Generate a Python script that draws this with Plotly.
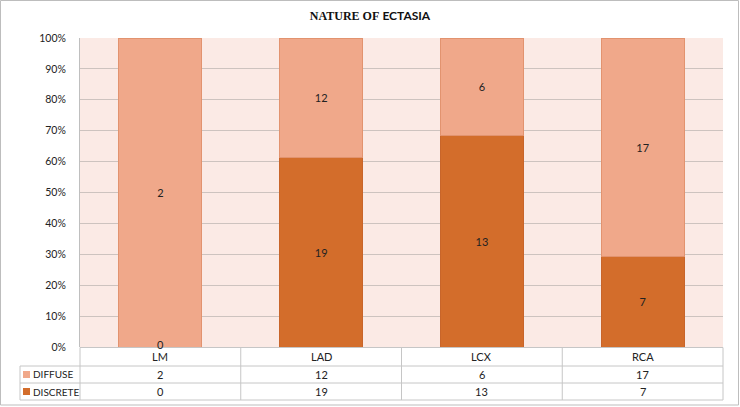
import plotly.graph_objects as go

categories = ['LM', 'LAD', 'LCX', 'RCA']
diffuse = [2, 12, 6, 17]
discrete = [0, 19, 13, 7]
series_names = ['DIFFUSE', 'DISCRETE']
tick_vals = [0, 10, 20, 30, 40, 50, 60, 70, 80, 90, 100]
tick_text = [f'{v}%' for v in tick_vals]

col_diffuse = '#F0A88A'
col_discrete = '#D36D2B'
txt_font = 'Lato, Carlito, sans-serif'

# plot area in pixels: x 80..723, y 38..347
W, H = 740, 407
L, R, T, B = 80, 17, 38, 60
pw, ph = W - L - R, H - T - B


def px_x(p):
    return (p - L) / pw


def px_y(p):
    return (H - B - p) / ph


fig = go.Figure()
fig.add_trace(go.Bar(x=categories, y=discrete, name=series_names[1],
                     marker=dict(color=col_discrete, line=dict(color='#C8652A', width=1)),
                     text=[str(v) if v else '' for v in discrete], textposition='inside',
                     insidetextanchor='middle', textangle=0,
                     textfont=dict(color='#222222', size=11, family=txt_font)))
fig.add_trace(go.Bar(x=categories, y=diffuse, name=series_names[0],
                     marker=dict(color=col_diffuse, line=dict(color='#E2936F', width=1)),
                     text=[str(v) for v in diffuse], textposition='inside',
                     insidetextanchor='middle', textangle=0,
                     textfont=dict(color='#222222', size=11, family=txt_font)))

fig.update_layout(
    barmode='stack', barnorm='percent', bargap=0.484,
    width=W, height=H,
    margin=dict(l=L, r=R, t=T, b=B),
    paper_bgcolor='white', plot_bgcolor='#FBEAE5',
    showlegend=False,
    title=dict(text="<b><span style='font-family:Liberation Serif'>NATURE OF</span> "
                    "<span style='font-family:Lato'>ECTASIA</span></b>",
               x=0.5, xanchor='center', y=0.962, yanchor='middle',
               font=dict(size=12, color='#111111')),
)
fig.update_yaxes(range=[0, 100], tickvals=tick_vals, ticktext=tick_text,
                 showgrid=True, gridcolor='#CDC3BF', gridwidth=1,
                 showline=True, linecolor='#BFBFBF', linewidth=1,
                 zeroline=False, ticks='', ticklabelstandoff=11,
                 tickfont=dict(size=10.5, family=txt_font, color='#222222'))
fig.update_xaxes(showticklabels=False, showgrid=False, zeroline=False,
                 showline=False, range=[-0.5, 3.5])

# zero-valued labels sit on the baseline
for c, v in zip(categories, discrete):
    if v == 0:
        fig.add_annotation(x=c, y=0, yref='y', text=str(v), showarrow=False,
                           yshift=3, font=dict(size=11, family=txt_font, color='#222222'))

# data table below the plot
line_c = '#C6C6C6'
row_y = [347.5, 366, 383, 400]
table_left = 20
shapes = []
# horizontal lines
shapes.append(dict(type='line', xref='paper', yref='paper', x0=0, x1=1,
                   y0=px_y(row_y[0]), y1=px_y(row_y[0])))
for yy in row_y[1:]:
    shapes.append(dict(type='line', xref='paper', yref='paper', x0=px_x(table_left), x1=1,
                       y0=px_y(yy), y1=px_y(yy)))
# vertical lines
shapes.append(dict(type='line', xref='paper', yref='paper', x0=px_x(table_left), x1=px_x(table_left),
                   y0=px_y(row_y[1]), y1=px_y(row_y[3])))
for i in range(len(categories) + 1):
    xx = i / len(categories)
    shapes.append(dict(type='line', xref='paper', yref='paper', x0=xx, x1=xx,
                       y0=px_y(row_y[0]), y1=px_y(row_y[3])))
for s in shapes:
    s['line'] = dict(color=line_c, width=1)
fig.update_layout(shapes=shapes)

# outer chart border
fig.add_shape(type='rect', xref='paper', yref='paper', x0=px_x(0.5), x1=px_x(738.5),
              y0=px_y(405), y1=px_y(0.5), line=dict(color='#BDBDBD', width=1))

cell_font = dict(size=11, family=txt_font, color='#222222')
mid = [(row_y[i] + row_y[i + 1]) / 2 for i in range(3)]
for c in categories:
    fig.add_annotation(x=c, xref='x', y=px_y(mid[0]), yref='paper', text=c,
                       showarrow=False, font=cell_font, yanchor='middle')
for r, vals in enumerate([diffuse, discrete]):
    for c, v in zip(categories, vals):
        fig.add_annotation(x=c, xref='x', y=px_y(mid[r + 1]), yref='paper', text=str(v),
                           showarrow=False, font=cell_font, yanchor='middle')

# legend keys in the table
key_font = dict(size=10, family=txt_font, color='#222222')
for r, (nm, col) in enumerate(zip(series_names, [col_diffuse, col_discrete])):
    yc = mid[r + 1]
    fig.add_shape(type='rect', xref='paper', yref='paper', x0=px_x(23), x1=px_x(30),
                  y0=px_y(yc + 3.5), y1=px_y(yc - 3.5), fillcolor=col, line=dict(width=0))
    fig.add_annotation(x=px_x(31), xref='paper', y=px_y(yc), yref='paper', text=nm,
                       showarrow=False, xanchor='left', yanchor='middle', font=key_font)

# the page body has a default margin; drop it so the figure sits at the window origin
fig.write_html("out.html", config={'displayModeBar': False},
               post_script="document.body.style.margin='0';")
